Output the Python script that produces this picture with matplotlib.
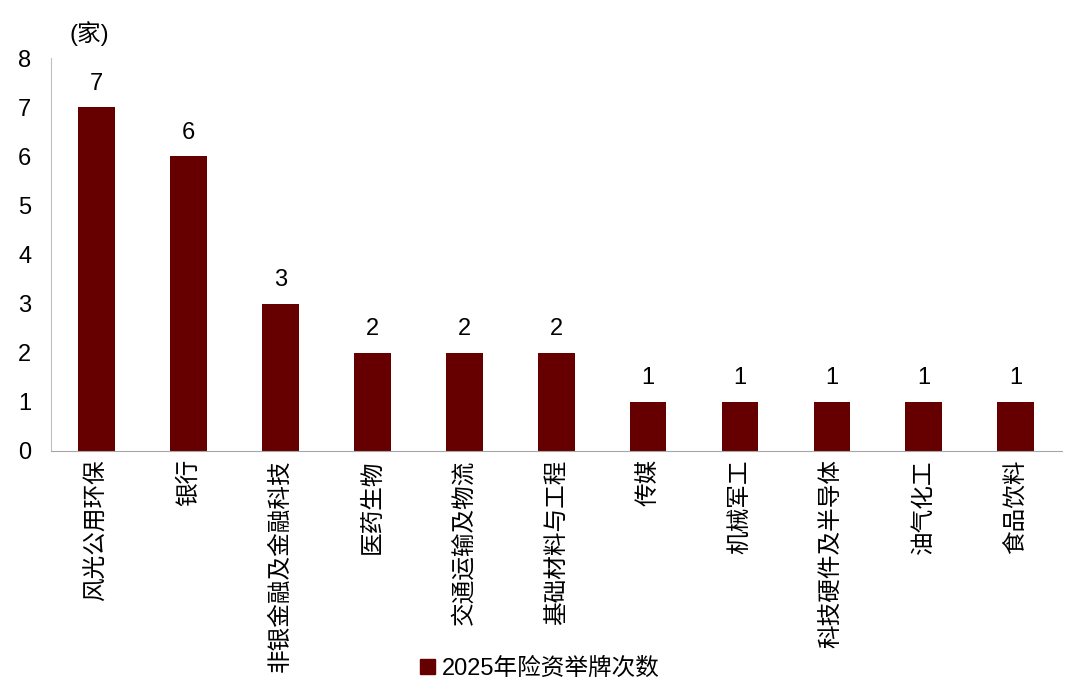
import matplotlib

matplotlib.use("Agg")
import matplotlib.pyplot as plt
from matplotlib.patches import Patch

plt.rcParams["font.family"] = ["Liberation Sans", "Noto Sans CJK SC", "DejaVu Sans"]

categories = ["风光公用环保", "银行", "非银金融及金融科技", "医药生物", "交通运输及物流",
              "基础材料与工程", "传媒", "机械军工", "科技硬件及半导体", "油气化工", "食品饮料"]
counts = [7, 6, 3, 2, 2, 2, 1, 1, 1, 1, 1]
series_name = "2025年险资举牌次数"
bar_color = "#660000"

fig = plt.figure(figsize=(10.8, 7.0), dpi=100)
ax = fig.add_axes([0.047, 0.356, 0.936, 0.561])

x = range(len(categories))
ax.bar(x, counts, width=0.4, color=bar_color, zorder=2)
for xi, v in zip(x, counts):
    ax.text(xi, v + 0.25, str(v), ha="center", va="bottom", fontsize=17)

ax.set_xlim(-0.5, len(categories) - 0.5)
ax.set_ylim(0, 8)
ax.set_yticks(range(0, 9))
ax.tick_params(axis="y", length=0, labelsize=17, pad=14)
ax.set_xticks(list(x))
ax.set_xticklabels(categories, rotation=90, fontsize=17,
                   family=["Noto Sans CJK SC", "DejaVu Sans"])
ax.tick_params(axis="x", length=0, pad=6)
for side in ("top", "right"):
    ax.spines[side].set_visible(False)
ax.spines["left"].set_color("#bfbfbf")
ax.spines["bottom"].set_color("#a6a6a6")

fig.text(0.064, 0.952, "(家)", fontsize=17, ha="left", va="center")

fig.legend(handles=[Patch(color=bar_color)], labels=[series_name],
           loc="center", bbox_to_anchor=(0.5, 0.045), frameon=False,
           handlelength=0.6, handleheight=0.6, handletextpad=0.3,
           prop={"family": ["Liberation Sans", "Noto Sans CJK SC"], "size": 17})

fig.savefig("out.png", dpi=100)
